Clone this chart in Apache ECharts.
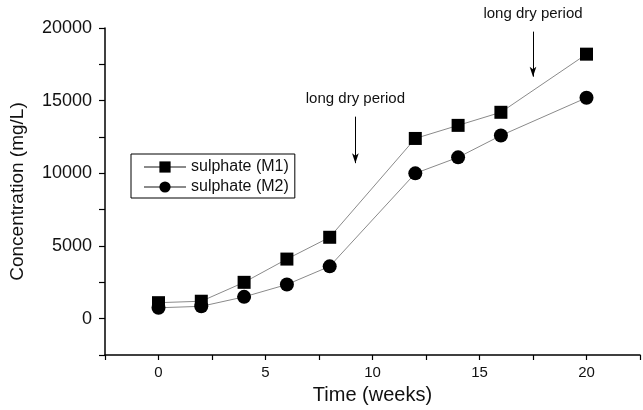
<!DOCTYPE html>
<html>
<head>
<meta charset="utf-8">
<script src="https://cdn.jsdelivr.net/npm/echarts@6/dist/echarts.min.js"></script>
<style>
  html, body { margin: 0; padding: 0; background: #fff; }
  #chart { width: 643px; height: 410px; }
</style>
</head>
<body>
<div id="chart"></div>
<script>
// data
const weeks = [0, 2, 4, 6, 8, 12, 14, 16, 20];
const sulphateM1 = [1100, 1200, 2500, 4100, 5600, 12400, 13300, 14200, 18200];
const sulphateM2 = [750, 850, 1500, 2350, 3600, 10000, 11100, 12600, 15200];
const seriesNames = ["sulphate (M1)", "sulphate (M2)"];
// annotation arrows: [x, yStart, yEnd]
const dryPeriods = [
  [9.2, 13900, 10700],
  [17.5, 19750, 16650]
];
const dryLabel = "long dry period";

const chart = echarts.init(document.getElementById("chart"));

const font = "Liberation Sans, Arial, sans-serif";
const lineGray = "#8a8a8a";

function pairs(xs, ys) {
  return xs.map((x, i) => [x, ys[i]]);
}

const option = {
  animation: false,
  grid: { left: 103, right: 0, top: 28, bottom: 54 },
  legend: {
    orient: "vertical",
    left: 131,
    top: 154,
    width: 164,
    padding: [5, 6, 3, 12],
    itemGap: 4,
    itemWidth: 42,
    itemHeight: 14,
    borderColor: "#000",
    borderWidth: 1,
    textStyle: { fontFamily: font, fontSize: 16, color: "#111" },
    data: seriesNames
  },
  xAxis: {
    type: "value",
    min: -2.5,
    max: 22.5,
    interval: 2.5,
    name: "Time (weeks)",
    nameLocation: "middle",
    nameGap: 30,
    nameTextStyle: { fontFamily: font, fontSize: 20, color: "#111" },
    axisLine: { onZero: false, lineStyle: { color: "#000", width: 1.5 } },
    axisTick: { length: 5, lineStyle: { color: "#000", width: 1.2 } },
    axisLabel: {
      margin: 10,
      fontFamily: font,
      fontSize: 15,
      color: "#111",
      formatter: v => (v % 5 === 0 ? String(v) : "")
    },
    splitLine: { show: false }
  },
  yAxis: {
    type: "value",
    min: -2500,
    max: 20000,
    interval: 2500,
    name: "Concentration (mg/L)",
    nameLocation: "middle",
    nameGap: 78,
    nameTextStyle: { fontFamily: font, fontSize: 19, color: "#111" },
    axisLine: { show: true, onZero: false, lineStyle: { color: "#000", width: 1.5 } },
    axisTick: { show: true, length: 6, lineStyle: { color: "#000", width: 1.2 } },
    axisLabel: {
      margin: 13,
      fontFamily: font,
      fontSize: 18,
      color: "#111",
      formatter: v => (v % 5000 === 0 ? String(v) : "")
    },
    splitLine: { show: false }
  },
  series: [
    {
      name: seriesNames[0],
      type: "line",
      data: pairs(weeks, sulphateM1),
      symbol: "rect",
      symbolSize: 13,
      itemStyle: { color: "#000" },
      lineStyle: { color: lineGray, width: 1 },
      markLine: {
        silent: true,
        symbol: ["none", "arrow"],
        symbolSize: [5, 10],
        lineStyle: { color: "#000", width: 1, type: "solid" },
        label: {
          show: true,
          position: "start",
          distance: 10,
          formatter: dryLabel,
          fontFamily: font,
          fontSize: 15,
          color: "#111"
        },
        data: dryPeriods.map(d => [{ coord: [d[0], d[1]] }, { coord: [d[0], d[2]] }])
      }
    },
    {
      name: seriesNames[1],
      type: "line",
      data: pairs(weeks, sulphateM2),
      symbol: "circle",
      symbolSize: 14,
      itemStyle: { color: "#000" },
      lineStyle: { color: lineGray, width: 1 }
    }
  ]
};

chart.setOption(option);
</script>
</body>
</html>
